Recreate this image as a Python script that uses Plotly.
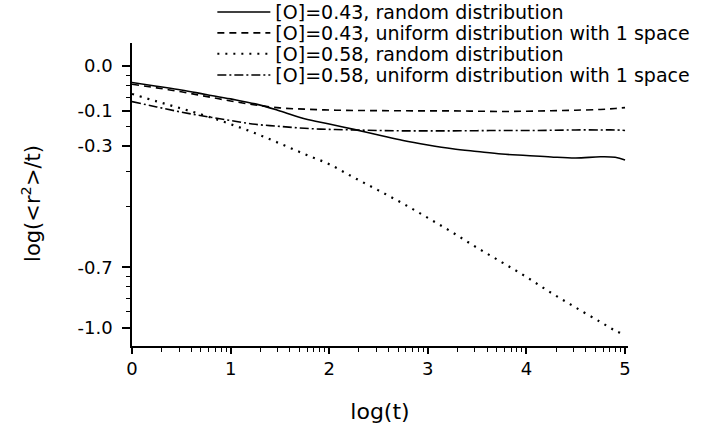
import plotly.graph_objects as go

# time t (x axis is log scale, labelled by log10(t))
t = [1, 1.78, 3.16, 5.62, 10, 17.8, 31.6, 56.2, 100, 178, 316, 562,
     1000, 1778, 3162, 5623, 10000, 17783, 31623, 56234, 79433, 100000]

# series values on the (log-scaled) y axis
o043_random = [8.28, 7.93, 7.60, 7.22, 6.86, 6.48, 5.98, 5.47, 5.15, 4.84, 4.54, 4.26,
               4.05, 3.88, 3.76, 3.65, 3.59, 3.53, 3.49, 3.54, 3.52, 3.41]
o043_uniform = [8.11, 7.78, 7.44, 7.06, 6.70, 6.40, 6.19, 6.10, 6.04, 6.01, 6.00, 5.99,
                5.98, 5.98, 5.96, 5.94, 5.96, 5.99, 6.03, 6.08, 6.15, 6.21]
o058_random = [7.26, 6.67, 6.15, 5.65, 5.14, 4.63, 4.12, 3.65, 3.25, 2.79, 2.41, 2.07,
               1.76, 1.49, 1.25, 1.06, 0.895, 0.747, 0.631, 0.535, 0.485, 0.461]
o058_uniform = [6.65, 6.26, 5.90, 5.61, 5.36, 5.13, 5.01, 4.90, 4.84, 4.81, 4.78, 4.76,
                4.76, 4.76, 4.77, 4.78, 4.78, 4.79, 4.81, 4.81, 4.81, 4.78]

series_names = ["[O]=0.43, random distribution",
                "[O]=0.43, uniform distribution with 1 space",
                "[O]=0.58, random distribution",
                "[O]=0.58, uniform distribution with 1 space"]

# tick labels
x_tickvals = [1, 10, 100, 1000, 10000, 100000]
x_ticktext = ["0", "1", "2", "3", "4", "5"]
y_tickvals = [10, 6, 4, 1, 0.5]
y_ticktext = ["0.0", "-0.1", "-0.3", "-0.7", "-1.0"]
y_minorvals = [9, 8, 7, 5, 3, 2, 0.9, 0.8, 0.7, 0.6]

x_minorvals = [k * 10 ** n for n in range(5) for k in range(2, 10)]

styles = [
    dict(dash="solid", width=1.6),
    dict(dash="7px,5px", width=1.6),
    dict(dash="2px,6px", width=2.2),
    dict(dash="9px,3px,2px,3px", width=1.6),
]
data = [o043_random, o043_uniform, o058_random, o058_uniform]
legend_ids = ["legend2", "legend3", "legend4", "legend5"]
legend_rows_y = [1.102, 1.033, 0.964, 0.894]

fig = go.Figure()
for name, ys, st, lid in zip(series_names, data, styles, legend_ids):
    fig.add_trace(go.Scatter(x=t, y=ys, mode="lines", name=name, legend=lid,
                             line=dict(color="black", shape="spline", **st)))

legend_common = dict(x=0.162, xanchor="left", yanchor="middle",
                     bgcolor="rgba(0,0,0,0)", font=dict(size=19),
                     itemwidth=53)
layout_legends = {lid: dict(y=ly, **legend_common)
                  for lid, ly in zip(legend_ids, legend_rows_y)}

fig.update_layout(
    width=706, height=433,
    margin=dict(l=132, r=78, t=43, b=87, autoexpand=False),
    plot_bgcolor="white", paper_bgcolor="white",
    font=dict(family="DejaVu Sans", size=18, color="black"),
    hovermode=False,
    **layout_legends,
)

fig.update_xaxes(
    type="log", range=[0, 5.03],
    tickmode="array", tickvals=x_tickvals, ticktext=x_ticktext,
    ticks="outside", ticklen=6, tickwidth=1.5, tickcolor="black",
    minor=dict(tickmode="array", tickvals=x_minorvals, ticks="outside",
               ticklen=4, tickwidth=1.2, tickcolor="black", showgrid=False),
    showline=True, linecolor="black", linewidth=1.5,
    showgrid=False, zeroline=False,
    title=dict(text="log(t)", font=dict(size=22), standoff=25),
)

fig.update_yaxes(
    type="log", range=[-0.391, 1.114],
    tickmode="array", tickvals=y_tickvals, ticktext=y_ticktext,
    ticks="outside", ticklen=8, tickwidth=1.5, tickcolor="black",
    ticklabelstandoff=6,
    minor=dict(tickmode="array", tickvals=y_minorvals, ticks="outside",
               ticklen=4, tickwidth=1.2, tickcolor="black", showgrid=False),
    showline=True, linecolor="black", linewidth=1.5,
    showgrid=False, zeroline=False,
)

fig.add_annotation(
    text="log(&lt;r<sup>2</sup>&gt;/t)", textangle=-90,
    xref="paper", yref="paper", x=-0.205, y=0.47,
    xanchor="center", yanchor="middle",
    showarrow=False, font=dict(size=21),
)

# remove the browser's default 8px page margin so the figure sits at (0, 0)
fig.write_html("out.html", config={"displayModeBar": False},
               post_script="document.body.style.margin='0px';")
